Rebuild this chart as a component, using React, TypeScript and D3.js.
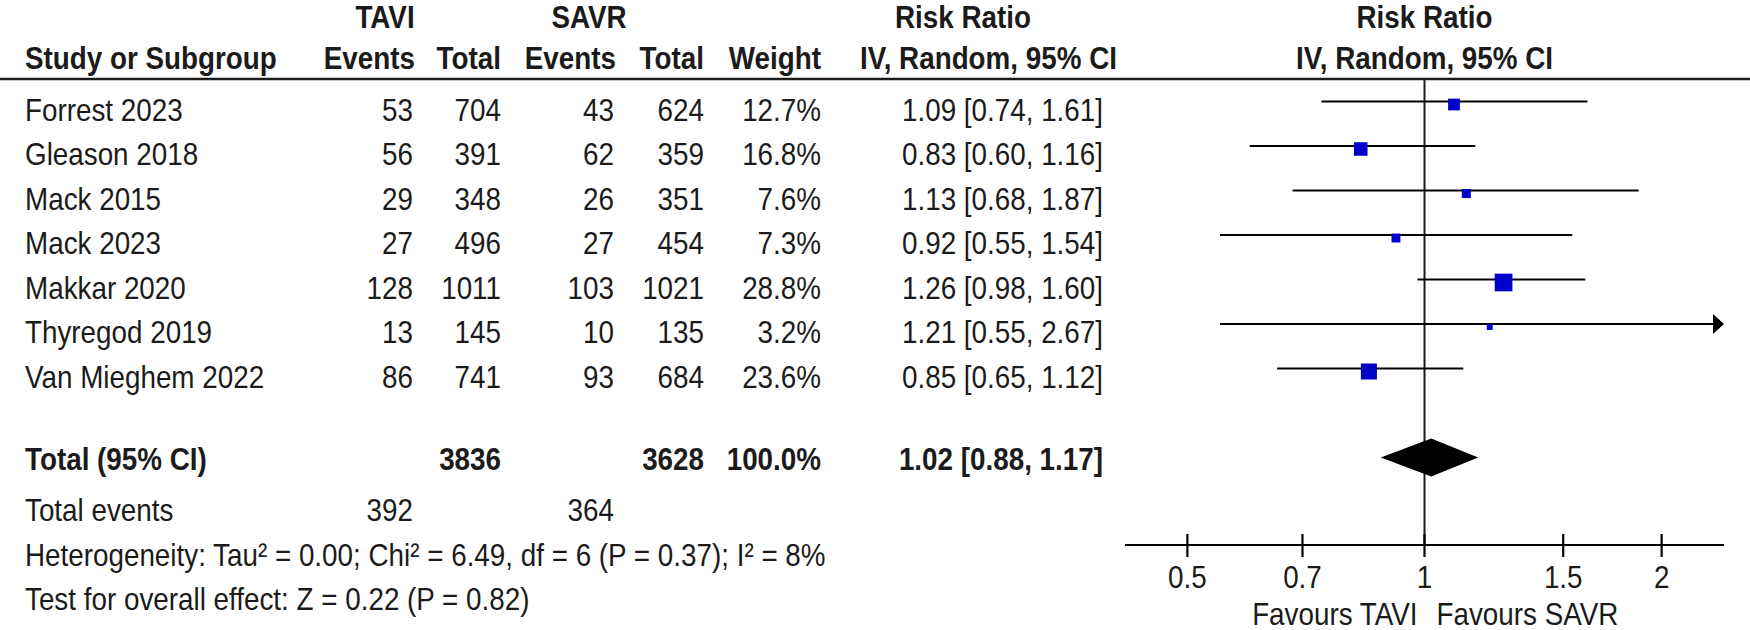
import React from "react";
import * as d3 from "d3";

const studies = ["Forrest 2023", "Gleason 2018", "Mack 2015", "Mack 2023", "Makkar 2020", "Thyregod 2019", "Van Mieghem 2022"];
const taviEvents = [53, 56, 29, 27, 128, 13, 86];
const taviTotal = [704, 391, 348, 496, 1011, 145, 741];
const savrEvents = [43, 62, 26, 27, 103, 10, 93];
const savrTotal = [624, 359, 351, 454, 1021, 135, 684];
const weights = [12.7, 16.8, 7.6, 7.3, 28.8, 3.2, 23.6];
const rr = [1.09, 0.83, 1.13, 0.92, 1.26, 1.21, 0.85];
const rrLo = [0.74, 0.6, 0.68, 0.55, 0.98, 0.55, 0.65];
const rrHi = [1.61, 1.16, 1.87, 1.54, 1.6, 2.67, 1.12];

const totalTavi = 3836;
const totalSavr = 3628;
const totalWeight = 100.0;
const totalRR = [1.02, 0.88, 1.17];
const eventsTavi = 392;
const eventsSavr = 364;
const heterogeneity = "Heterogeneity: Tau\u00B2 = 0.00; Chi\u00B2 = 6.49, df = 6 (P = 0.37); I\u00B2 = 8%";
const overall = "Test for overall effect: Z = 0.22 (P = 0.82)";
const ticks = [0.5, 0.7, 1, 1.5, 2];

const W = 1750;
const H = 630;
const FS = 32;
const SX = 0.8696;
const INK = "#1b1b1b";
const FONT = "'Liberation Sans', Arial, sans-serif";

const x = d3.scaleLog().domain([1 / 2.4, 2.4]).range([1125, 1724]);
const y = d3.scaleLinear().domain([0, 1]).range([101.5, 146]);

const col = {
  study: 25,
  taviE: 413,
  taviT: 501,
  savrE: 614,
  savrT: 704,
  weight: 821,
  rr: 1103,
};

function T({ x: tx, y: ty, anchor = "start", bold = false, children }: any) {
  return (
    <text
      transform={`translate(${tx},${ty}) scale(${SX},1)`}
      textAnchor={anchor}
      fontFamily={FONT}
      fontSize={FS}
      fontWeight={bold ? "bold" : "normal"}
      fill={INK}
    >
      {children}
    </text>
  );
}

const fmt2 = d3.format(".2f");
const fmtW = (v: number) => d3.format(".1f")(v) + "%";
const ciText = (m: number, l: number, h: number) => `${fmt2(m)} [${fmt2(l)}, ${fmt2(h)}]`;

export default function App() {
  const x1 = x(1);
  const [xMin, xMax] = x.range();
  const axisY = 545;
  const totalY = y(8);
  const diamondH = 19;

  return (
    <svg width={W} height={H} style={{ position: "absolute", left: 0, top: 0, background: "#fff" }}>
      <rect x={0} y={0} width={W} height={H} fill="#fff" />
      {/* Header row 1 */}
      <T x={385} y={28} anchor="middle" bold>TAVI</T>
      <T x={589} y={28} anchor="middle" bold>SAVR</T>
      <T x={963} y={28} anchor="middle" bold>Risk Ratio</T>
      <T x={x1} y={28} anchor="middle" bold>Risk Ratio</T>
      {/* Header row 2 */}
      <T x={col.study} y={69} bold>Study or Subgroup</T>
      <T x={col.taviE + 2} y={69} anchor="end" bold>Events</T>
      <T x={col.taviT} y={69} anchor="end" bold>Total</T>
      <T x={col.savrE + 2} y={69} anchor="end" bold>Events</T>
      <T x={col.savrT} y={69} anchor="end" bold>Total</T>
      <T x={col.weight} y={69} anchor="end" bold>Weight</T>
      <T x={col.rr + 14} y={69} anchor="end" bold>IV, Random, 95% CI</T>
      <T x={x1} y={69} anchor="middle" bold>IV, Random, 95% CI</T>
      <line x1={0} x2={W} y1={79} y2={79} stroke={INK} strokeWidth={2.5} />

      {/* null line */}
      <line x1={x1} x2={x1} y1={79} y2={axisY} stroke={INK} strokeWidth={2} />

      {/* Study rows */}
      {studies.map((s, i) => {
        const ry = y(i);
        const tb = ry + 19;
        const lo = Math.max(rrLo[i], x.domain()[0]);
        const hi = Math.min(rrHi[i], x.domain()[1]);
        const clippedHi = rrHi[i] > x.domain()[1];
        const side = 3.3 * Math.sqrt(weights[i]);
        return (
          <g key={s}>
            <T x={col.study} y={tb}>{s}</T>
            <T x={col.taviE} y={tb} anchor="end">{taviEvents[i]}</T>
            <T x={col.taviT} y={tb} anchor="end">{taviTotal[i]}</T>
            <T x={col.savrE} y={tb} anchor="end">{savrEvents[i]}</T>
            <T x={col.savrT} y={tb} anchor="end">{savrTotal[i]}</T>
            <T x={col.weight} y={tb} anchor="end">{fmtW(weights[i])}</T>
            <T x={col.rr} y={tb} anchor="end">{ciText(rr[i], rrLo[i], rrHi[i])}</T>
            <line x1={x(lo)} x2={clippedHi ? x(hi) - 8 : x(hi)} y1={ry} y2={ry} stroke="#000" strokeWidth={2.2} />
            {clippedHi && (
              <path d={`M${x(hi)},${ry} L${x(hi) - 11},${ry - 10} L${x(hi) - 11},${ry + 10} Z`} fill="#000" />
            )}
            <rect x={x(rr[i]) - side / 2} y={ry + 3 - side / 2} width={side} height={side} fill="#0000c8" />
          </g>
        );
      })}

      {/* Total row */}
      <T x={col.study} y={totalY + 12} bold>Total (95% CI)</T>
      <T x={col.taviT} y={totalY + 12} anchor="end" bold>{totalTavi}</T>
      <T x={col.savrT} y={totalY + 12} anchor="end" bold>{totalSavr}</T>
      <T x={col.weight} y={totalY + 12} anchor="end" bold>{fmtW(totalWeight)}</T>
      <T x={col.rr} y={totalY + 12} anchor="end" bold>{ciText(totalRR[0], totalRR[1], totalRR[2])}</T>
      <path
        d={`M${x(totalRR[1])},${totalY} L${x(totalRR[0])},${totalY - diamondH} L${x(totalRR[2])},${totalY} L${x(totalRR[0])},${totalY + diamondH} Z`}
        fill="#000"
      />

      <T x={col.study} y={y(9) + 19}>Total events</T>
      <T x={col.taviE} y={y(9) + 19} anchor="end">{eventsTavi}</T>
      <T x={col.savrE} y={y(9) + 19} anchor="end">{eventsSavr}</T>
      <T x={col.study} y={y(10) + 19}>{heterogeneity}</T>
      <T x={col.study} y={y(11) + 19}>{overall}</T>

      {/* Axis */}
      <line x1={xMin} x2={xMax} y1={axisY} y2={axisY} stroke="#000" strokeWidth={2.2} />
      {ticks.map((t) => (
        <g key={t}>
          <line x1={x(t)} x2={x(t)} y1={axisY - 11} y2={axisY + 12} stroke="#000" strokeWidth={2.2} />
          <T x={x(t)} y={588} anchor="middle">{String(t)}</T>
        </g>
      ))}
      <T x={x1 - 7} y={625} anchor="end">Favours TAVI</T>
      <T x={x1 + 12} y={625}>Favours SAVR</T>
    </svg>
  );
}
